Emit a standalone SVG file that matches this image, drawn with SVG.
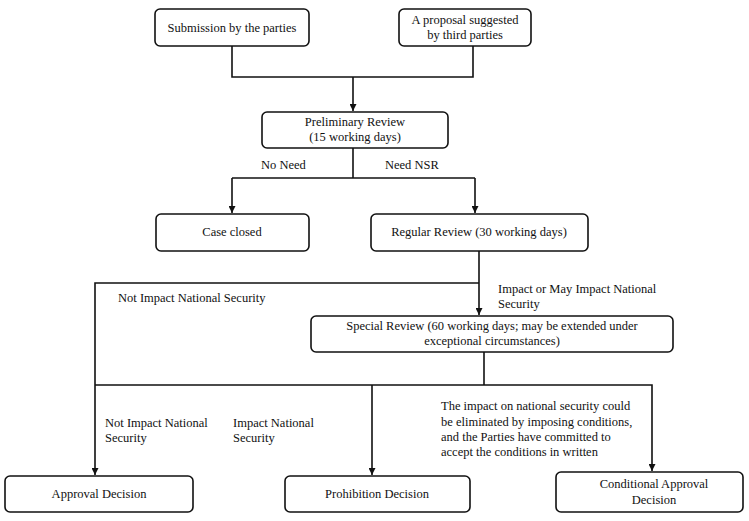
<svg xmlns="http://www.w3.org/2000/svg" width="749" height="521" viewBox="0 0 749 521">
<defs>
<style>
.box{fill:#fff;stroke:#111;stroke-width:1.6}
.t{font-family:"Liberation Serif","Times New Roman",serif;font-size:12.5px;fill:#111}
.m{text-anchor:middle}
.c{fill:none;stroke:#111;stroke-width:1.6}
</style>
<marker id="ah" viewBox="0 0 10 10" refX="10" refY="5" markerWidth="7" markerHeight="7" orient="auto" markerUnits="userSpaceOnUse">
<path d="M0,0 L10,5 L0,10 z" fill="#111"/>
</marker>
</defs>
<rect width="749" height="521" fill="#fff"/>
<g id="connectors">
<path class="c" d="M232,46 V77 H473 V46"/>
<path class="c" d="M353,77 V111" marker-end="url(#ah)"/>
<path class="c" d="M353,148 V178"/>
<path class="c" d="M232,178 H475"/>
<path class="c" d="M232,178 V213" marker-end="url(#ah)"/>
<path class="c" d="M475,178 V213" marker-end="url(#ah)"/>
<path class="c" d="M479,251 V315" marker-end="url(#ah)"/>
<path class="c" d="M479,283 H95 V475" marker-end="url(#ah)"/>
<path class="c" d="M484,352 V385"/>
<path class="c" d="M95,385 H652 V471" marker-end="url(#ah)"/>
<path class="c" d="M372,385 V475" marker-end="url(#ah)"/>
<text class="t" x="261" y="169">No Need</text>
<text class="t" x="385" y="169">Need NSR</text>
<text class="t" x="118" y="302">Not Impact National Security</text>
<text class="t" x="498" y="293">Impact or May Impact National</text>
<text class="t" x="498" y="308">Security</text>
<text class="t" x="105" y="427">Not Impact National</text>
<text class="t" x="105" y="442">Security</text>
<text class="t" x="233" y="427">Impact National</text>
<text class="t" x="233" y="442">Security</text>
<text class="t" x="441" y="410">The impact on national security could</text>
<text class="t" x="441" y="426">be eliminated by imposing conditions,</text>
<text class="t" x="441" y="441">and the Parties have committed to</text>
<text class="t" x="441" y="456">accept the conditions in written</text>
</g>
<g id="submission">
<rect class="box" x="155" y="9" width="154" height="37" rx="5"/>
<text class="t m" x="232" y="32">Submission by the parties</text>
</g>
<g id="proposal">
<rect class="box" x="399" y="9" width="132" height="37" rx="5"/>
<text class="t m" x="465" y="24">A proposal suggested</text>
<text class="t m" x="465" y="39">by third parties</text>
</g>
<g id="preliminary">
<rect class="box" x="262" y="112" width="186" height="36" rx="5"/>
<text class="t m" x="355" y="126">Preliminary Review</text>
<text class="t m" x="355" y="141">(15 working days)</text>
</g>
<g id="closed">
<rect class="box" x="156" y="214" width="153" height="37" rx="5"/>
<text class="t m" x="232" y="236">Case closed</text>
</g>
<g id="regular">
<rect class="box" x="371" y="214" width="217" height="37" rx="5"/>
<text class="t m" x="479" y="236">Regular Review (30 working days)</text>
</g>
<g id="special">
<rect class="box" x="311" y="316" width="362" height="36" rx="5"/>
<text class="t m" x="492" y="330">Special Review (60 working days; may be extended under</text>
<text class="t m" x="492" y="345">exceptional circumstances)</text>
</g>
<g id="approval">
<rect class="box" x="5" y="476" width="188" height="36" rx="5"/>
<text class="t m" x="99" y="498">Approval Decision</text>
</g>
<g id="prohibition">
<rect class="box" x="285" y="476" width="185" height="36" rx="5"/>
<text class="t m" x="377" y="498">Prohibition Decision</text>
</g>
<g id="conditional">
<rect class="box" x="556" y="472" width="187" height="40" rx="5"/>
<text class="t m" x="654" y="488">Conditional Approval</text>
<text class="t m" x="654" y="504">Decision</text>
</g>
</svg>
